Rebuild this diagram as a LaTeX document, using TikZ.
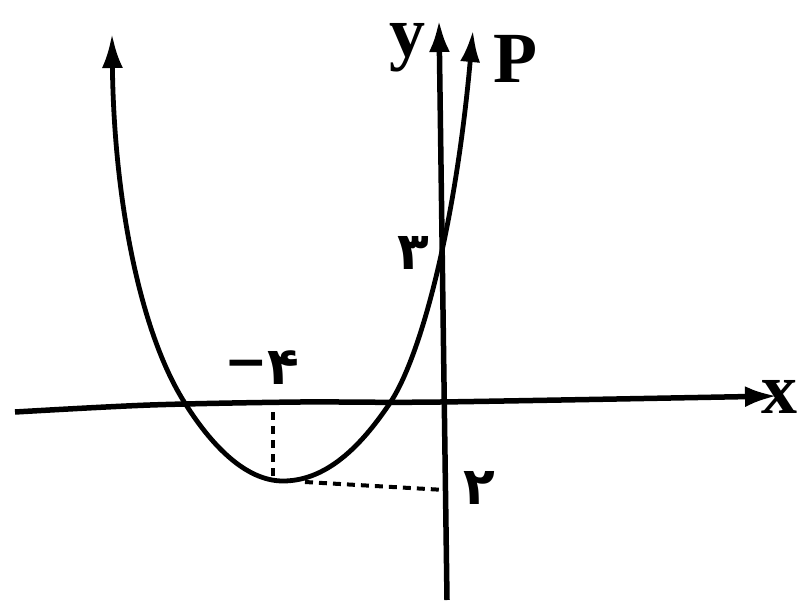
\documentclass[tikz,border=0pt]{standalone}
\usepackage{fontspec}
\setmainfont{Liberation Serif}
\newfontfamily\arabicfont[Script=Arabic]{DejaVu Sans}
\usetikzlibrary{arrows.meta}
\begin{document}
\begin{tikzpicture}[x=1pt,y=-1pt,
  axis/.style={line width=5.5pt,-{Latex[length=32pt,width=21pt]}},
  curve/.style={line width=4.8pt},
  guide/.style={line width=4pt,dash pattern=on 8pt off 6pt},
  latin/.style={font=\fontsize{72}{72}\selectfont\bfseries,inner sep=0pt,anchor=base},
  digit/.style={font=\fontsize{52}{52}\selectfont\arabicfont\bfseries,inner sep=0pt}]
\useasboundingbox (0,0) rectangle (798,610);
% coordinates
\coordinate (xs) at (15,412);
\coordinate (xe) at (777,396);
\coordinate (ys) at (447,600);
\coordinate (ye) at (439,20);
\coordinate (vx) at (273,412);
\coordinate (vt) at (273,478);
\coordinate (hs) at (305,482);
\coordinate (he) at (445,490);
\coordinate (ptop) at (112,34);
\coordinate (r1) at (183,400);
\coordinate (vert) at (283,481);
\coordinate (r2) at (390,403);
\coordinate (qtop) at (473,30);
% axes
\draw[axis] plot[smooth] coordinates {(xs) (150,405) (300,402) (440,402) (xe)};
\draw[axis] (ys) -- (ye);
% parabola
\draw[curve,{Latex[length=34pt,width=21pt]}-{Latex[length=32pt,width=20pt]}]
  (ptop) .. controls (114,200) and (140,330) .. (r1)
  .. controls (210,444) and (245,481) .. (vert)
  .. controls (330,481) and (365,440) .. (r2)
  .. controls (420,358) and (455,230) .. (qtop);
% guides
\draw[guide] (vx) -- (vt);
\draw[guide] (hs) -- (he);
% labels
\node[latin] (ylab) at (407,57) {y};
\node[latin] (plab) at (515,83) {P};
\node[latin] (xlab) at (779,413) {x};
\node[digit] (three) at (413,253) {۳};
\node[digit] (two) at (479,488) {۲};
\node[digit] (four) at (283,368) {۴};
\node[digit] (minus) at (246,370) {−};
\end{tikzpicture}
\end{document}
